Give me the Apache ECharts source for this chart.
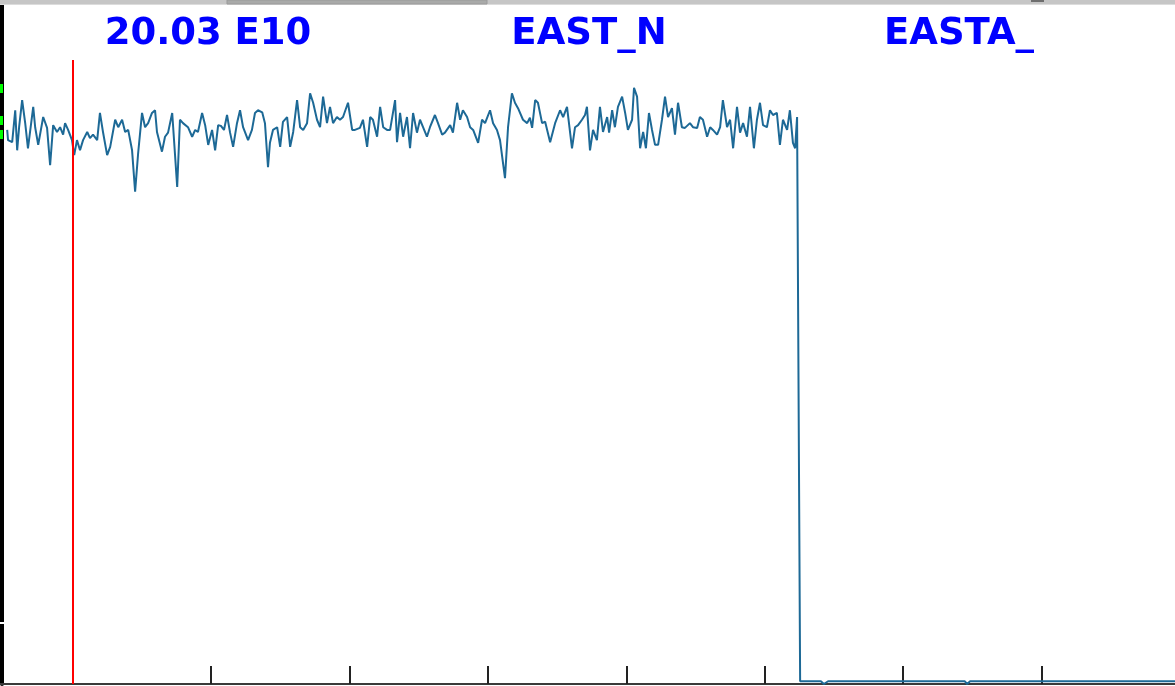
<!DOCTYPE html>
<html>
<head>
<meta charset="utf-8">
<script src="https://cdn.jsdelivr.net/npm/echarts@6/dist/echarts.min.js"></script>
<style>
html,body{margin:0;padding:0;background:#fff;}
#chart{width:1175px;height:686px;}
</style>
</head>
<body>
<div id="chart"></div>
<script>
// ---- data ----
const labels = ['20.03 E10', 'EAST_N', 'EASTA_'];
const xTicks = [50, 100, 150, 200, 250, 300, 350, 400];
const xRange = [23.8, 448.2];

const sampleT = [
26.4,26.7,28.2,29.3,30.0,30.7,31.8,32.9,33.9,35.8,36.5,37.6,38.3,39.4,40.8,41.9,43.0,44.4,45.5,46.6,
47.3,48.4,49.8,50.6,51.6,52.7,53.8,55.3,56.3,57.4,58.9,59.9,61.0,62.5,63.6,65.4,66.5,67.9,69.0,70.1,
71.5,72.6,73.7,75.1,76.2,77.3,78.7,79.8,80.5,82.3,83.4,84.5,86.0,87.8,88.8,89.9,91.7,93.2,94.3,95.3,
96.8,97.9,99.0,100.4,101.5,102.6,103.6,104.7,105.8,106.9,108.0,109.4,110.5,111.6,113.4,114.8,115.9,117.0,118.5,119.5,
120.6,121.3,122.4,123.9,125.0,126.0,127.5,128.6,129.7,131.1,
132.2,133.3,134.7,135.8,136.9,138.3,139.4,140.5,141.9,143.0,144.1,145.5,146.6,147.7,149.5,151.0,152.0,153.8,154.9,156.4,
157.5,158.5,160.0,161.1,162.2,163.6,164.7,166.5,167.2,168.3,169.4,170.8,171.9,173.0,174.4,175.5,176.6,178.0,179.1,180.9,
182.0,183.5,184.5,186.4,187.4,188.9,190.0,191.0,192.5,193.6,194.7,196.5,197.9,199.0,200.8,201.9,203.3,204.4,206.2,207.3,
208.7,209.8,210.9,212.7,214.2,215.2,216.0,217.1,218.1,219.6,220.7,222.5,224.3,226.1,227.2,228.6,230.4,231.5,232.6,
234.0,235.1,235.8,236.9,238.0,239.4,240.5,241.6,243.1,243.8,244.9,245.9,247.0,248.5,249.6,250.6,252.1,252.8,253.9,255.0,
256.1,257.1,258.2,259.3,260.4,261.5,262.9,264.0,265.1,266.5,267.6,268.7,270.1,271.2,273.0,274.1,275.6,276.6,277.7,279.2,
280.3,281.3,282.8,283.9,284.9,286.4,287.5,288.6,290.0,291.1,292.2,293.6,294.7,296.1,297.2,298.3,299.4,300.8,301.9,303.0,
304.4,305.5,306.6,308.1,309.1,310.2,311.0,311.7,
312.8,320.3,321.4,322.9,372.3,373.1,374.2,448.2
];

const level = [
81.6,80.1,79.8,84.5,78.6,82.0,86.0,82.6,78.9,85.0,82.0,79.4,79.4,83.5,81.9,76.4,82.3,81.3,82.0,80.9,
82.6,81.6,80.1,77.9,80.1,78.6,80.1,81.3,80.4,80.9,80.1,84.1,81.3,77.9,79.1,83.1,82.0,83.1,81.3,81.6,
78.6,72.5,78.2,84.1,82.0,82.6,84.1,84.5,81.3,78.4,80.6,81.2,84.1,73.2,83.1,82.6,82.0,80.6,81.6,81.3,
84.1,82.3,79.4,81.6,78.6,82.3,82.2,81.6,83.8,81.2,79.1,82.6,84.5,82.0,80.1,81.6,84.1,84.5,84.2,82.6,
76.1,79.7,81.6,82.0,79.1,82.8,83.5,79.1,81.3,86.0,
82.0,81.6,82.6,87.0,85.6,83.1,82.0,86.5,82.6,85.0,82.6,83.5,83.1,83.5,85.6,81.6,81.6,81.9,83.1,79.1,
83.5,83.1,80.6,85.0,82.0,81.6,81.6,86.0,79.8,84.1,80.6,83.5,78.9,84.1,81.2,83.1,82.0,80.6,82.0,83.8,
82.6,80.9,81.2,82.3,81.2,85.6,83.1,84.5,83.5,82.0,81.6,79.7,83.1,82.6,84.5,82.6,81.6,80.1,74.5,82.0,
87.0,85.6,84.8,83.1,82.6,83.4,81.9,86.0,85.6,82.6,82.8,79.8,82.6,84.5,83.5,85.0,78.9,82.0,82.3,
83.1,83.8,85.0,78.6,81.6,80.1,85.0,81.3,83.5,81.2,84.5,82.0,85.0,86.5,84.1,81.6,83.1,87.8,86.5,78.9,
81.3,78.9,84.1,81.6,79.4,79.4,83.1,86.5,83.5,84.8,80.9,85.6,82.0,81.9,82.6,82.0,81.9,83.5,83.1,80.6,
82.0,81.6,80.9,82.0,86.0,82.0,83.1,78.9,85.0,81.2,82.6,80.6,85.0,78.9,83.1,85.6,82.3,82.0,84.5,83.8,
84.1,79.4,83.1,81.6,84.5,79.7,78.9,83.5,
0.4,0.4,0.0,0.4,0.4,0.0,0.4,0.4
];

const cursorT = 50;      // red cursor position on the x scale
const cursorTop = 91.9;  // top end of the red cursor

const seriesData = sampleT.map((t, i) => [t, level[i]]);

const chart = echarts.init(document.getElementById('chart'), null, {renderer: 'canvas'});

const titleFont = 'bold 37px "DejaVu Sans"';
chart.setOption({
  animation: false,
  backgroundColor: '#ffffff',
  grid: {left: 0, right: 0, top: 5, bottom: 2, containLabel: false},
  xAxis: {
    type: 'value', min: xRange[0], max: xRange[1],
    axisLine: {show: true, lineStyle: {color: '#3a3a3a', width: 2}},
    axisTick: {show: true, inside: true, length: 18, customValues: xTicks, lineStyle: {color: '#222', width: 2}},
    axisLabel: {show: false},
    splitLine: {show: false}
  },
  yAxis: {
    type: 'value', min: 0, max: 100, offset: -2,
    axisLine: {show: true, lineStyle: {color: '#000', width: 4}},
    axisTick: {show: false},
    axisLabel: {show: false},
    splitLine: {show: false}
  },
  series: [{
    type: 'line',
    data: seriesData,
    showSymbol: false,
    symbol: 'none',
    lineStyle: {color: '#1d6996', width: 2},
    clip: true,
    markLine: {
      silent: true, symbol: 'none', animation: false,
      label: {show: false},
      lineStyle: {color: '#ff0000', width: 2, type: 'solid'},
      data: [[{coord: [cursorT, cursorTop]}, {coord: [cursorT, 0]}]]
    }
  }],
  graphic: [
    {type: 'rect', shape: {x: 0, y: 0, width: 1175, height: 5}, style: {fill: '#c6c6c6'}, z: 100},
    {type: 'rect', shape: {x: 0, y: 4, width: 1175, height: 1}, style: {fill: '#dcdcdc'}, z: 101},
    {type: 'rect', shape: {x: 227, y: 0, width: 260, height: 4}, style: {fill: '#a9aaa9', stroke: '#9a9a9a', lineWidth: 1}, z: 102},
    {type: 'rect', shape: {x: 1031, y: 0, width: 13, height: 2}, style: {fill: '#6e6e6e'}, z: 102},
    {type: 'rect', shape: {x: 0, y: 622, width: 4, height: 2}, style: {fill: '#ffffff'}, z: 100},
    {type: 'rect', shape: {x: 0, y: 84, width: 3, height: 9}, style: {fill: '#00ff00'}, z: 100},
    {type: 'rect', shape: {x: 0, y: 116, width: 3, height: 9}, style: {fill: '#00ff00'}, z: 100},
    {type: 'rect', shape: {x: 0, y: 130, width: 3, height: 9}, style: {fill: '#00ff00'}, z: 100},
    {type: 'text', x: 208, y: 34, style: {text: labels[0], font: titleFont, fill: '#0000ff', align: 'center', verticalAlign: 'middle'}, z: 100},
    {type: 'text', x: 589, y: 34, style: {text: labels[1], font: titleFont, fill: '#0000ff', align: 'center', verticalAlign: 'middle'}, z: 100},
    {type: 'text', x: 959, y: 34, style: {text: labels[2], font: titleFont, fill: '#0000ff', align: 'center', verticalAlign: 'middle'}, z: 100}
  ]
});
</script>
</body>
</html>
